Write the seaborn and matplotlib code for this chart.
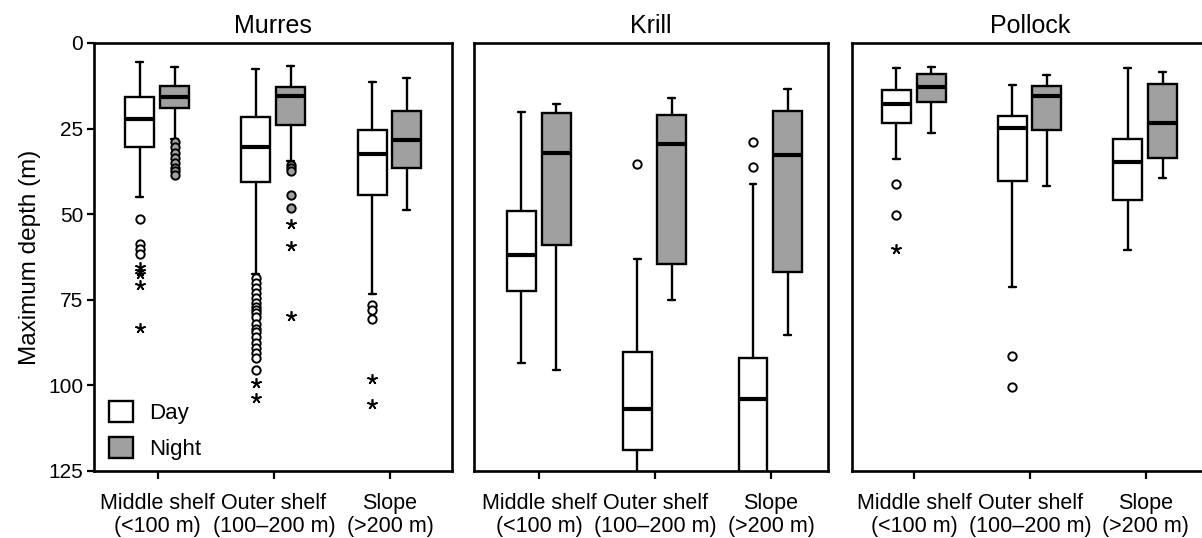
import numpy as np
import matplotlib
matplotlib.use("Agg")
import matplotlib.pyplot as plt
import seaborn as sns
from matplotlib.patches import Patch

# ---------------- data ----------------
panels = ["Murres", "Krill", "Pollock"]
regions = ["Middle shelf\n(<100 m)", "Outer shelf\n(100\u2013200 m)", "Slope\n(>200 m)"]
periods = ["Day", "Night"]
yticks = [0, 25, 50, 75, 100, 125]

# box stats per region: [lower whisker, Q1, median, Q3, upper whisker] (depth, m)
murres_day = [[5.6, 15.9, 22.2, 30.3, 45.1], [7.6, 21.6, 30.3, 40.7, 67.5], [11.4, 25.3, 32.3, 44.5, 73.2]]
murres_night = [[7.1, 12.7, 15.9, 19.0, 28.0], [6.7, 12.9, 15.4, 24.0, 34.5], [10.2, 20.0, 28.2, 36.5, 48.8]]
krill_day = [[20.2, 49.0, 62.0, 72.4, 93.6], [63.0, 90.3, 106.9, 119.0, 135.0], [41.3, 91.9, 103.9, 135.0, 140.0]]
krill_night = [[17.7, 20.5, 32.0, 59.0, 95.6], [16.0, 20.9, 29.5, 64.5, 75.0], [13.5, 20.0, 32.7, 66.8, 85.4]]
pollock_day = [[7.4, 13.6, 17.9, 23.3, 34.0], [12.3, 21.4, 24.8, 40.3, 71.4], [7.4, 27.9, 34.9, 45.9, 60.6]]
pollock_night = [[7.0, 9.1, 12.9, 17.1, 26.3], [9.3, 12.7, 15.5, 25.5, 41.9], [8.4, 11.9, 23.5, 33.7, 39.5]]

# outliers (circles) and extremes (asterisks) per region
murres_day_out = [[51.5, 58.7, 60.2, 61.6],
                  [68.5, 70.0, 71.5, 73.0, 74.5, 76.0, 77.0, 78.0, 79.0, 80.0, 82.0, 83.5,
                   84.5, 86.0, 87.5, 89.0, 90.5, 92.0, 95.6],
                  [76.4, 78.1, 80.6]]
murres_day_ext = [[65.3, 66.5, 67.6, 70.6, 83.1], [99.4, 103.6], [98.1, 105.3]]
murres_night_out = [[29.0, 30.5, 32.0, 33.5, 35.0, 36.5, 37.5, 38.5], [35.5, 36.5, 37.5, 44.5, 48.2], []]
murres_night_ext = [[], [53.0, 59.3, 79.8], []]
krill_day_out = [[], [35.3], [28.8, 36.1]]
krill_day_ext = [[], [], []]
krill_night_out = [[], [], []]
krill_night_ext = [[], [], []]
pollock_day_out = [[41.3, 50.2], [91.3, 100.6], []]
pollock_day_ext = [[60.2], [], []]
pollock_night_out = [[], [], []]
pollock_night_ext = [[], [], []]

# ---------------- styling ----------------
sns.set_theme(style="ticks")
plt.rcParams["font.family"] = ["Liberation Sans", "DejaVu Sans"]
for key in ["text.color", "axes.labelcolor", "xtick.color", "ytick.color", "axes.edgecolor"]:
    plt.rcParams[key] = "black"

W, H = 1202, 538
fig = plt.figure(figsize=(W / 100, H / 100), dpi=100)
fig.patch.set_facecolor("white")

day_fill = "white"
night_fill = "#a0a0a0"
offsets = {"Day": -0.155, "Night": 0.145}
box_w = 0.25

# axes layout in pixels: (left, width, xlim)
layout = [
    (94.3, 358.0, (-0.546, 2.536)),
    (473.7, 354.6, (-0.566, 2.495)),
    (852.3, 356.0, (-0.536, 2.540)),
]
top_px, bot_px = 43.0, 471.0

stats_sets = [
    (murres_day, murres_night, murres_day_out, murres_day_ext, murres_night_out, murres_night_ext),
    (krill_day, krill_night, krill_day_out, krill_day_ext, krill_night_out, krill_night_ext),
    (pollock_day, pollock_night, pollock_day_out, pollock_day_ext, pollock_night_out, pollock_night_ext),
]


def to_bxp(rows):
    return [dict(whislo=r[0], q1=r[1], med=r[2], q3=r[3], whishi=r[4], fliers=[]) for r in rows]


for k, (name, (left, width, xlim), sset) in enumerate(zip(panels, layout, stats_sets)):
    ax = fig.add_axes([left / W, (H - bot_px) / H, width / W, (bot_px - top_px) / H])
    ax.set_facecolor("white")
    day, night, d_out, d_ext, n_out, n_ext = sset
    for period, rows, fill, outs, exts in [("Day", day, day_fill, d_out, d_ext),
                                           ("Night", night, night_fill, n_out, n_ext)]:
        pos = np.arange(len(regions)) + offsets[period]
        ax.bxp(to_bxp(rows), positions=pos, widths=box_w, showfliers=False,
               patch_artist=True, manage_ticks=False,
               boxprops=dict(facecolor=fill, edgecolor="black", linewidth=1.7),
               medianprops=dict(color="black", linewidth=3.0, solid_capstyle="butt"),
               whiskerprops=dict(color="black", linewidth=1.7),
               capprops=dict(color="black", linewidth=1.7),
               capwidths=0.06)
        for i in range(len(regions)):
            if outs[i]:
                ax.plot(np.full(len(outs[i]), pos[i]), outs[i], ls="none", marker="o",
                        mfc=fill, mec="black", ms=6, mew=1.4, zorder=4)
            if exts[i]:
                ax.plot(np.full(len(exts[i]), pos[i]), exts[i], ls="none", marker=(5, 2, 0),
                        color="black", ms=7.5, mew=1.2, zorder=4)

    ax.set_xlim(*xlim)
    ax.set_ylim(125, 0)
    ax.set_xticks(range(len(regions)))
    ax.set_xticklabels(regions, fontsize=15.5, linespacing=1.1)
    ax.tick_params(axis="x", length=6, width=1.6, pad=10, colors="black")
    for sp in ax.spines.values():
        sp.set_visible(True)
        sp.set_linewidth(1.9)
        sp.set_color("black")
    if k == 0:
        ax.set_yticks(yticks)
        ax.set_yticklabels([str(t) for t in yticks], fontsize=15)
        ax.tick_params(axis="y", length=5, width=1.6, pad=3, colors="black")
        ax.set_ylabel("Maximum depth (m)", fontsize=17.5, labelpad=5)
        handles = [Patch(facecolor=day_fill, edgecolor="black", linewidth=1.7),
                   Patch(facecolor=night_fill, edgecolor="black", linewidth=1.7)]
        ax.legend(handles, periods, loc="lower left", bbox_to_anchor=(0.042, 0.025),
                  frameon=False, fontsize=16, borderpad=0, borderaxespad=0,
                  handlelength=1.05, handleheight=1.05, handletextpad=0.75, labelspacing=0.6)
    else:
        ax.set_yticks([])
        ax.tick_params(axis="y", left=False, labelleft=False)
    ax.set_title(name, fontsize=18, pad=7)

fig.savefig("out.png", dpi=100, facecolor="white")
